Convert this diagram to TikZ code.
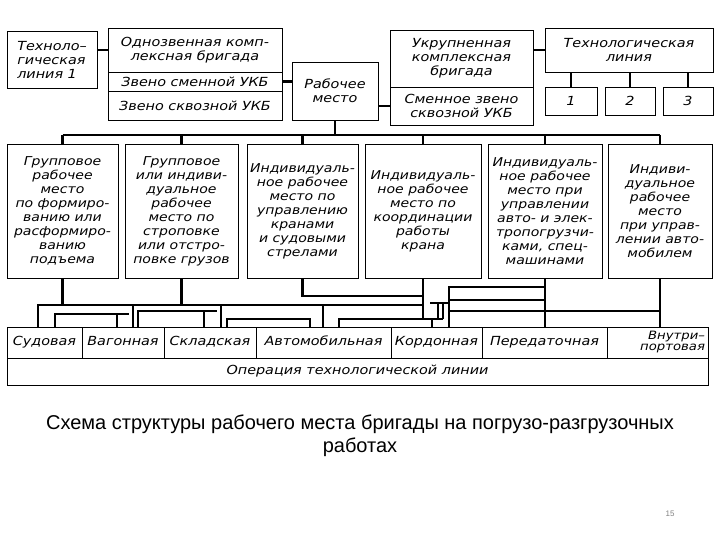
\documentclass[tikz,border=0pt]{standalone}
\usepackage{fontspec}
\setmainfont{DejaVu Sans}
\newfontfamily\hand[FakeStretch=1.15]{DejaVu Sans}
\newfontfamily\capfont{Liberation Sans}
\usetikzlibrary{positioning}
\tikzset{
 box/.style={draw, line width=0.9pt, inner sep=1pt, align=center,
   font=\hand\itshape\fontsize{12.5}{14}\selectfont},
 midbox/.style={box, font=\hand\itshape\fontsize{12.2}{14}\selectfont},
 cell/.style={box, text height=8.5pt, text depth=2.5pt},
 link/.style={line width=2.4pt},
}
\begin{document}
\begin{tikzpicture}[x=1pt,y=-1pt]
 \useasboundingbox (0,0) rectangle (720,540);
 \node[box, align=left, minimum width=90, minimum height=57] (TL1) at (52,59.5) {Техноло–\\гическая\\линия 1};
 \node[box, minimum width=174, minimum height=44] (BR1) at (195,50) {Однозвенная комп-\\лексная бригада};
 \node[box, minimum width=174, minimum height=19] (BR2) at (195,81.5) {Звено сменной УКБ};
 \node[box, minimum width=174, minimum height=29] (BR3) at (195,105.5) {Звено сквозной УКБ};
 \node[box, minimum width=86, minimum height=58] (RM) at (335,91) {Рабочее\\место};
 \node[box, minimum width=143, minimum height=57] (UK1) at (461.5,58.5) {Укрупненная\\комплексная\\бригада};
 \node[box, minimum width=143, minimum height=38] (UK2) at (461.5,106) {Сменное звено\\сквозной УКБ};
 \node[box, minimum width=168, minimum height=44] (TL) at (629,50) {Технологическая\\линия};
 \node[box, minimum width=52, minimum height=28] (L1) at (571,101) {1};
 \node[box, minimum width=50, minimum height=28] (L2) at (630,101) {2};
 \node[box, minimum width=50, minimum height=28] (L3) at (688,101) {3};
 \draw[link] (TL1.east |- BR1.west) -- (BR1.west);
 \draw[link] (BR2.east) -- (BR2.east -| RM.west);
 \draw[link] (UK2.west -| RM.east) -- (UK2.west);
 \draw[link] (UK1.east |- TL.east) -- (TL.west);
 \foreach \l in {L1,L2,L3} \draw[link] (\l.north |- TL.south) -- (\l.north);

 \node[midbox, minimum width=111, minimum height=134] (M1) at (62.5,211) {Групповое\\рабочее\\место\\по формиро-\\ванию или\\расформиро-\\ванию\\подъема};
 \node[midbox, minimum width=113, minimum height=134] (M2) at (181.5,211) {Групповое\\или индиви-\\дуальное\\рабочее\\место по\\строповке\\или отстро-\\повке грузов};
 \node[midbox, minimum width=111, minimum height=134] (M3) at (302.5,211) {Индивидуаль-\\ное рабочее\\место по\\управлению\\кранами\\и судовыми\\стрелами};
 \node[midbox, minimum width=116, minimum height=134] (M4) at (423,211) {Индивидуаль-\\ное рабочее\\место по\\координации\\работы\\крана};
 \node[midbox, minimum width=114, minimum height=134] (M5) at (545,211) {Индивидуаль-\\ное рабочее\\место при\\управлении\\авто- и элек-\\тропогрузчи-\\ками, спец-\\машинами};
 \node[midbox, minimum width=104, minimum height=134] (M6) at (660,211) {Индиви-\\дуальное\\рабочее\\место\\при управ-\\лении авто-\\мобилем};
 \coordinate (hT) at (0,135);
 \draw[link] (RM.south) -- (RM.south |- hT);
 \draw[link] (M1.north |- hT) -- (M6.north |- hT);
 \foreach \m in {M1,M2,M3,M4,M5,M6} \draw[link] (\m.north |- hT) -- (\m.north);

 \node[cell, minimum width=75, minimum height=31] (S1) at (44.5,342.5) {Судовая};
 \node[cell, minimum width=82, minimum height=31] (S2) at (123,342.5) {Вагонная};
 \node[cell, minimum width=92, minimum height=31] (S3) at (210,342.5) {Складская};
 \node[cell, minimum width=135, minimum height=31] (S4) at (323.5,342.5) {Автомобильная};
 \node[cell, minimum width=91, minimum height=31] (S5) at (436.5,342.5) {Кордонная};
 \node[cell, minimum width=125, minimum height=31] (S6) at (544.5,342.5) {Передаточная};
 \node[box, align=right, minimum width=101, minimum height=31, text width=95, font=\hand\itshape\fontsize{11.5}{11}\selectfont] (S7) at (657.5,342.5) {Внутри–\\портовая};
 \node[cell, minimum width=701, minimum height=27] (OP) at (357.5,371.5) {Операция технологической линии};

 \coordinate (hA) at (0,305);
 \coordinate (hB) at (0,314);
 \coordinate (hC) at (0,311);
 \coordinate (hD) at (0,319);
 \coordinate (hE) at (0,296);
 \coordinate (hF) at (0,287);
 \coordinate (hG) at (0,300);
 \coordinate (hK) at (0,303);
 \draw[link] (M1.south) -- (M1.south |- hA);
 \draw[link] (M2.south) -- (M2.south |- hA);
 \draw[link] (38,0 |- S1.north) |- (M4.south |- hA);
 \foreach \x in {133,221,323} \draw[link] (\x,0 |- hA) -- (\x,0 |- S1.north);
 \draw[link] (55,0 |- S1.north) |- (129,0 |- hB);
 \draw[link] (117,0 |- hB) -- (117,0 |- S2.north);
 \draw[link] (138,0 |- S2.north) |- (217,0 |- hC);
 \draw[link] (204,0 |- hC) -- (204,0 |- S3.north);
 \draw[link] (227,0 |- S3.north) |- (310,0 |- hD) -- (310,0 |- S4.north);
 \draw[link] (339,0 |- S4.north) |- (443,0 |- hD);
 \draw[link] (432,0 |- hD) -- (432,0 |- S5.north);
 \draw[link] (M3.south) |- (M4.south |- hE);
 \draw[link] (M4.south) -- (M4.south |- hD);
 \draw[link] (430,0 |- hK) -- (449,0 |- hK);
 \foreach \x in {438,443} \draw[link] (\x,0 |- hK) -- (\x,0 |- hD);
 \draw[link] (M5.south) -- (M5.south |- S6.north);
 \draw[link] (449,0 |- S5.north) |- (M5.south |- hF);
 \draw[link] (449,0 |- hG) -- (M5.south |- hG);
 \draw[link] (449,0 |- hC) -- (M6.south |- hC);
 \draw[link] (M6.south) -- (M6.south |- S7.north);

 \node[font=\capfont\fontsize{20}{23}\selectfont, align=center] (CAP) at (360,436) {Схема структуры рабочего места бригады на погрузо-разгрузочных\\работах};
 \node[font=\capfont\fontsize{8}{9}\selectfont, text=gray] (PG) at (670,514) {15};
\end{tikzpicture}
\end{document}
